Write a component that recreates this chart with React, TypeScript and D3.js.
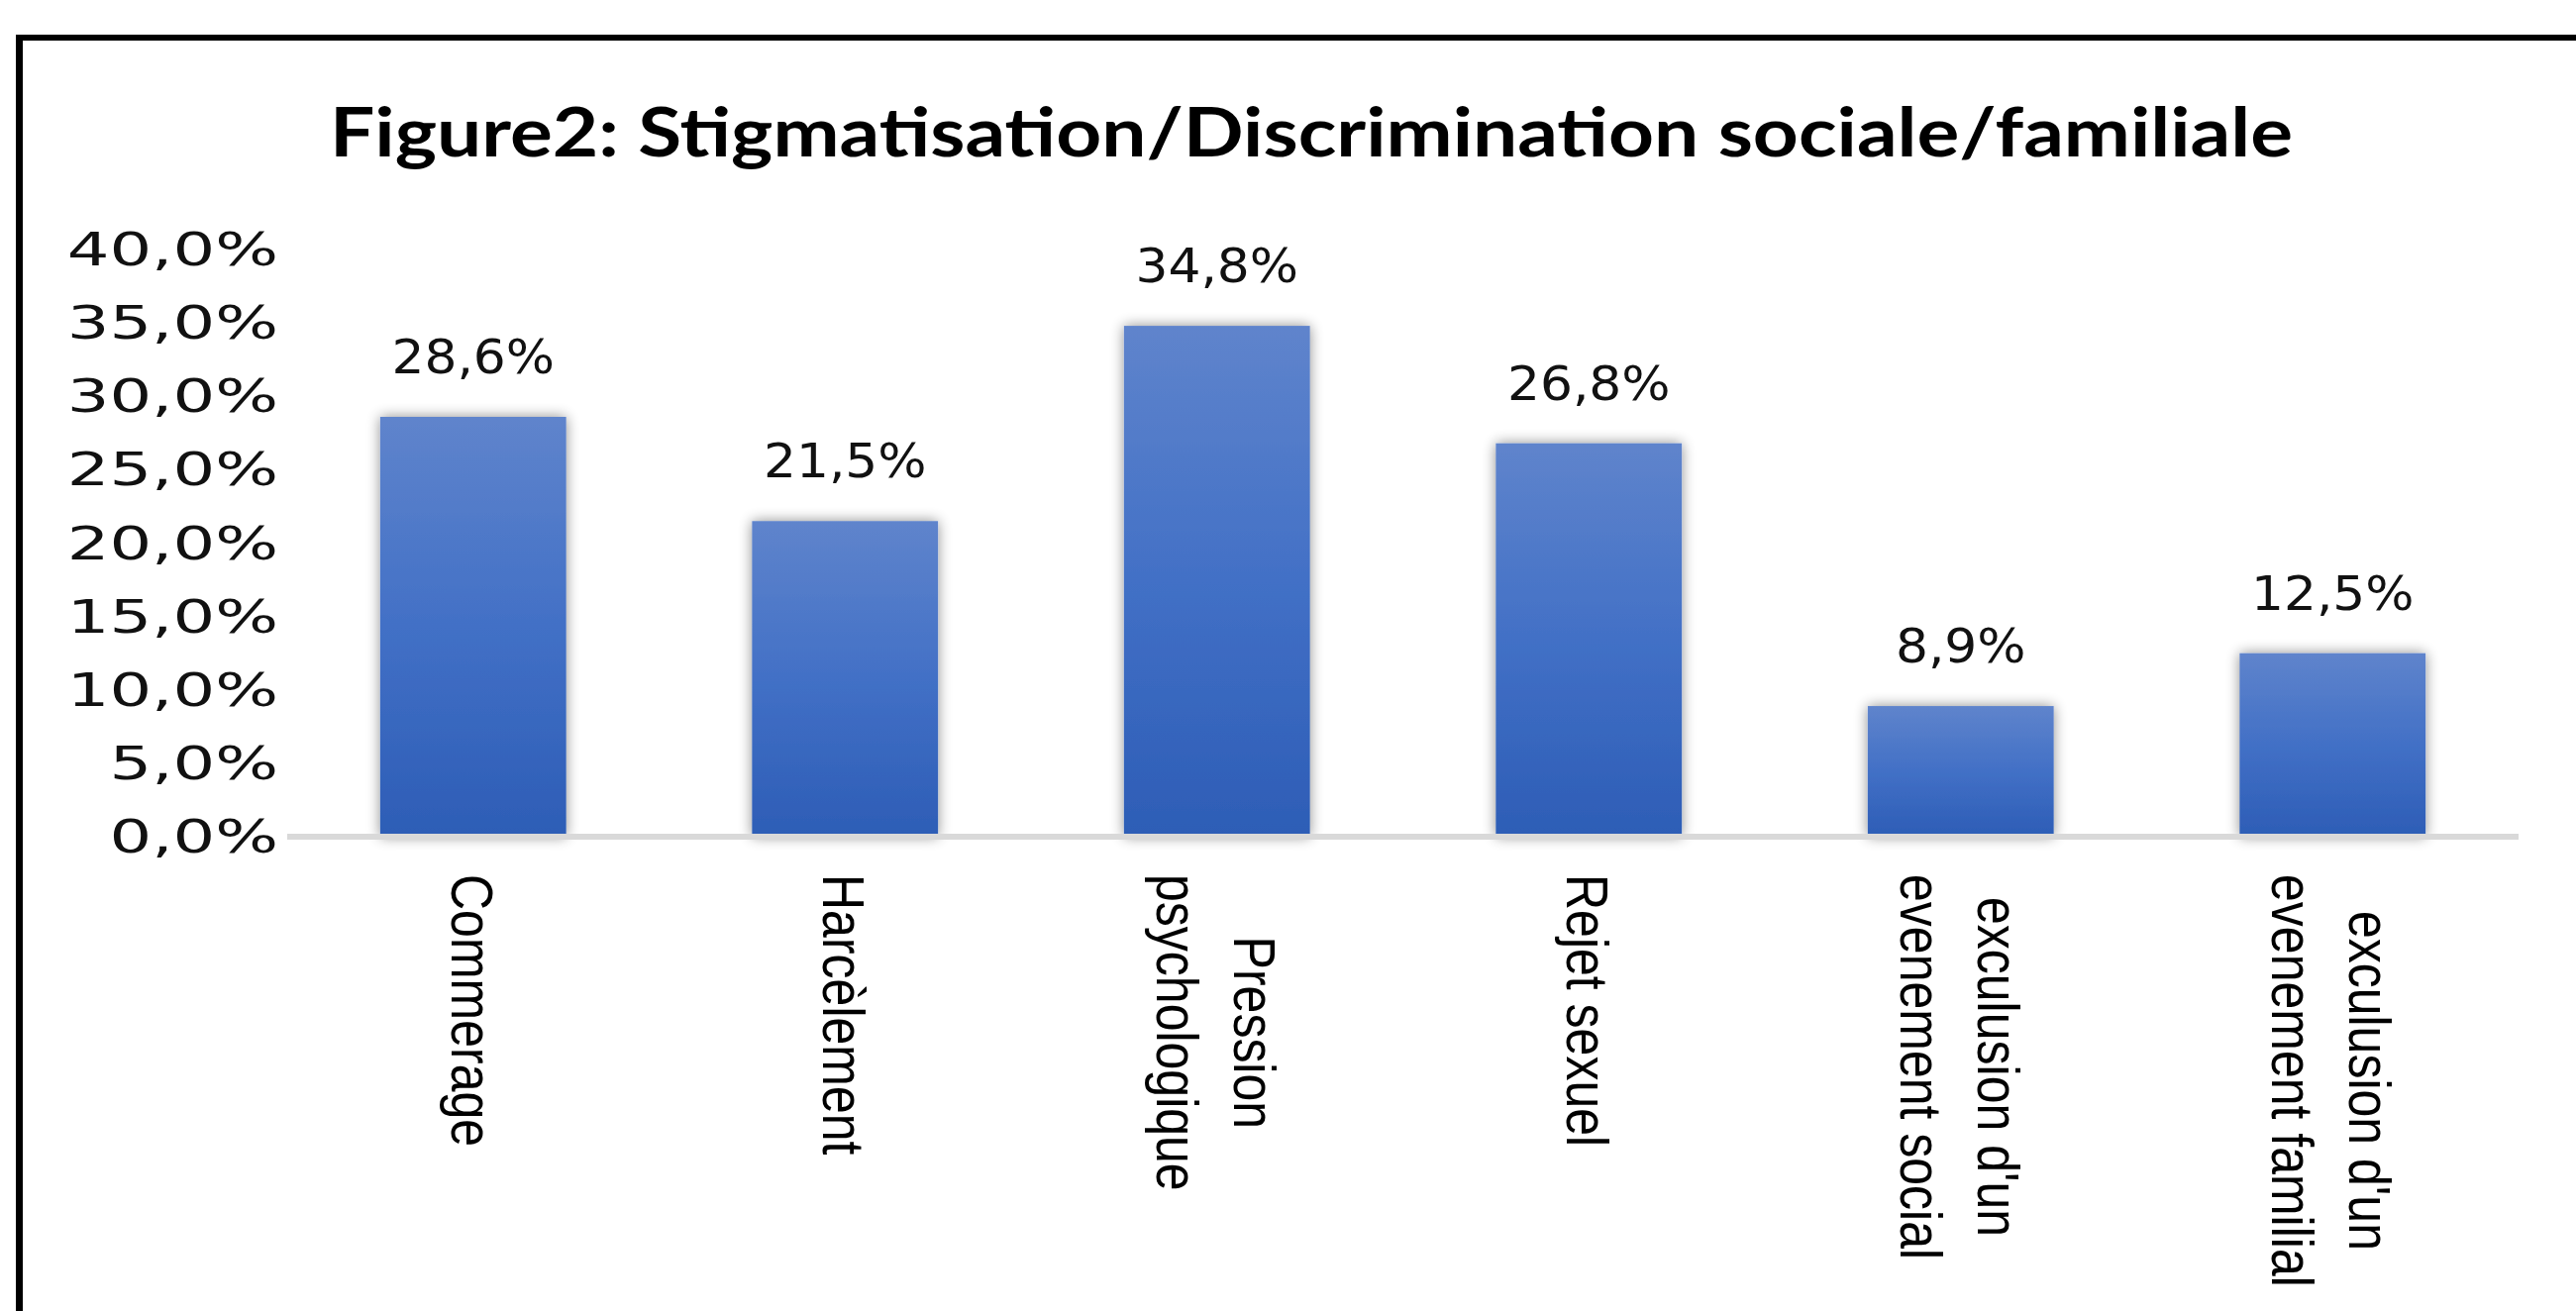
import React from 'react';
import * as d3 from 'd3';

const categories = [
  'Commerage',
  'Harcèlement',
  'Pression\npsychologique',
  'Rejet sexuel',
  "exculusion d'un\nevenement social",
  "exculusion d'un\nevenement familial",
];
const values = [28.6, 21.5, 34.8, 26.8, 8.9, 12.5];
const yTicks = [0, 5, 10, 15, 20, 25, 30, 35, 40];
const title = 'Figure2: Stigmatisation/Discrimination sociale/familiale';

const W = 2601;
const H = 1324;
const baseY = 845;
const labelFont = "50px 'Liberation Sans', Arial, sans-serif";

const fmt = (v: number) => v.toFixed(1).replace('.', ',') + '%';

// measure label lines so multi-line labels can be centred on each other
const ctx = document.createElement('canvas').getContext('2d')!;
ctx.font = labelFont;
const textW = (s: string) => ctx.measureText(s).width;

const App: React.FC = () => {
  const x = d3.scaleBand<string>()
    .domain(categories)
    .range([290, 2543])
    .paddingInner(0.5)
    .paddingOuter(0.25);

  const y = d3.scaleLinear()
    .domain([0, 40])
    .range([baseY, 252]);

  const bw = x.bandwidth();

  return (
    <svg width={W} height={H} style={{ position: 'absolute', left: 0, top: 0, background: '#fff' }}>
      <defs>
        <linearGradient id="barGrad" x1="0" y1="0" x2="0" y2="1">
          <stop offset="0%" stopColor="#5f84cc" />
          <stop offset="50%" stopColor="#4270c6" />
          <stop offset="100%" stopColor="#2d5db6" />
        </linearGradient>
        <filter id="shadow" x="-30%" y="-10%" width="160%" height="120%">
          <feGaussianBlur in="SourceAlpha" stdDeviation="7" />
          <feComponentTransfer>
            <feFuncA type="linear" slope="0.45" />
          </feComponentTransfer>
          <feMerge>
            <feMergeNode />
            <feMergeNode in="SourceGraphic" />
          </feMerge>
        </filter>
      </defs>
      <rect x={0} y={0} width={W} height={H} fill="#fff" />

      {/* frame */}
      <line x1={19.5} y1={35} x2={19.5} y2={H} stroke="#000" strokeWidth={7} />
      <line x1={16} y1={38} x2={W} y2={38} stroke="#000" strokeWidth={6} />

      {/* title */}
      <text
        x={1324}
        y={158}
        textAnchor="middle"
        fontFamily="Lato, 'Open Sans', sans-serif"
        fontWeight={700}
        fontSize={68}
        textLength={1982}
        lengthAdjust="spacingAndGlyphs"
      >
        {title}
      </text>

      {/* y axis labels */}
      {yTicks.map(t => (
        <text
          key={t}
          transform={`translate(281, ${y(t) + 16}) scale(1.46, 1)`}
          textAnchor="end"
          fontFamily="'DejaVu Sans', sans-serif"
          fontSize={46}
          fill="#111"
        >
          {fmt(t)}
        </text>
      ))}

      {/* bars */}
      {categories.map((c, i) => (
        <rect
          key={c}
          x={x(c)}
          y={y(values[i])}
          width={bw}
          height={baseY - y(values[i])}
          fill="url(#barGrad)"
          filter="url(#shadow)"
        />
      ))}

      {/* baseline */}
      <line x1={290} y1={baseY} x2={2543} y2={baseY} stroke="#d9d9d9" strokeWidth={6} />

      {/* value labels */}
      {categories.map((c, i) => (
        <text
          key={c}
          transform={`translate(${(x(c) ?? 0) + bw / 2}, ${y(values[i]) - 44}) scale(1.08, 1)`}
          textAnchor="middle"
          fontFamily="'DejaVu Sans', sans-serif"
          fontSize={48}
          fill="#111"
        >
          {fmt(values[i])}
        </text>
      ))}

      {/* category labels, rotated */}
      {categories.map(c => {
        const lines = c.split('\n');
        const cx = (x(c) ?? 0) + bw / 2;
        const n = lines.length;
        const longest = Math.max(...lines.map(textW));
        const mid = 883 + longest / 2;
        return (
          <g key={c}>
            {lines.map((l, i) => {
              const bx = cx + (n - 1) * 39 - 22 - i * 78;
              return (
                <text
                  key={i}
                  transform={`translate(${bx}, ${mid}) rotate(90) scale(1, 1.2)`}
                  textAnchor="middle"
                  fontFamily="'Liberation Sans', Arial, sans-serif"
                  fontSize={50}
                  fill="#000"
                >
                  {l}
                </text>
              );
            })}
          </g>
        );
      })}
    </svg>
  );
};

export default App;
